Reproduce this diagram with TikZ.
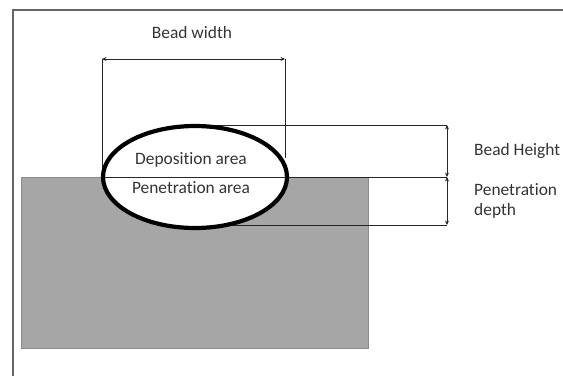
\documentclass[tikz,border=0pt]{standalone}
\usepackage{fontspec}
\setmainfont{Carlito}[Ligatures=NoCommon]
\usetikzlibrary{arrows.meta,shapes.geometric}
\begin{document}
\begin{tikzpicture}[x=1pt,y=-1pt,
  dim/.style={line width=1pt,black!85},
  dimarrow/.style={dim,{Stealth[length=4.5pt,width=4pt]}-{Stealth[length=4.5pt,width=4pt]}},
  lbl/.style={font=\fontsize{17.4}{20}\selectfont,text=black!80,inner sep=0pt}]
\useasboundingbox (0,0) rectangle (563,376);
% frame
\draw[line width=1.6pt,black!60] (13,376) -- (13,10) -- (563,10);
% substrate
\node[draw=black!45,fill=black!35,line width=0.8pt,minimum width=347pt,minimum height=171pt,inner sep=0pt,anchor=north west] (sub) at (21,177) {};
% coordinates
\coordinate (wl) at (102,59);
\coordinate (wr) at (285,59);
\coordinate (wlb) at (102,177);
\coordinate (wrb) at (285,158);
\coordinate (ht) at (447,125);
\coordinate (hm) at (447,177);
\coordinate (hb) at (447,225);
\coordinate (lt) at (207,125);
\coordinate (lm) at (102,177);
\coordinate (lb) at (224,225);
% bead fill
\node[fill=white,ellipse,minimum width=184pt,minimum height=102pt,inner sep=0pt] (beadfill) at (195,177) {};
% extension lines
\draw[dim] (wl) -- (wlb);
\draw[dim] (wr) -- (wrb);
\draw[dim] (lt) -- (ht);
\draw[dim] (lm) -- (hm);
\draw[dim] (lb) -- (hb);
% dimension arrows
\draw[dimarrow] (wl) -- (wr);
\draw[dimarrow] (ht) -- (hm);
\draw[dimarrow] (hm) -- (hb);
% bead outline
\node[draw,ellipse,line width=4.2pt,minimum width=184pt,minimum height=102pt,inner sep=0pt] (bead) at (195,177) {};
% labels
\node[lbl] (bw) at (192,33) {Bead width};
\node[lbl] (dep) at (191,160) {Deposition area};
\node[lbl] (pen) at (191,188) {Penetration area};
\node[lbl,anchor=west] (bh) at (474,151) {Bead Height};
\node[lbl,anchor=west,align=left] (pd) at (474,201) {Penetration\\depth};
\end{tikzpicture}
\end{document}
